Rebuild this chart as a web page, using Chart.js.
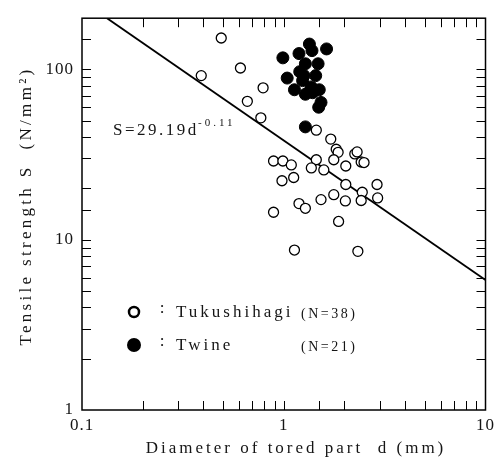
<!DOCTYPE html>
<html>
<head>
<meta charset="utf-8">
<title>Tensile strength vs diameter</title>
<script src="https://cdn.jsdelivr.net/npm/chart.js@4.4.1/dist/chart.umd.min.js"></script>
<style>
	html, body { margin: 0; padding: 0; background: #fff; }
	#chart { display: block; }
</style>
</head>
<body>
<canvas id="chart" width="499" height="466"></canvas>
<script>
// Tukushihagi (open circles): diameter d (mm) and tensile strength S (N/mm2).
var tukushihagiD = [ 0.49, 0.39, 0.61, 0.79, 0.66, 0.77, 0.89, 0.99, 1.09, 0.98, 1.12, 1.45, 1.71, 1.82, 1.86, 2.25, 2.31, 1.45, 1.77, 1.37, 1.58, 2.03, 2.42, 2.50, 2.03, 2.90, 2.45, 2.42, 2.92, 1.77, 1.53, 2.02, 1.19, 1.28, 0.89, 1.87, 1.13, 2.33 ];
var tukushihagiS = [ 153, 92, 102, 78, 65, 52, 29, 29, 27.5, 22.2, 23.2, 44, 39, 34, 32.6, 31.9, 32.8, 29.5, 29.5, 26.4, 25.7, 27.1, 28.6, 28.4, 21.1, 21.1, 19.0, 17.0, 17.6, 18.4, 17.2, 16.9, 16.3, 15.3, 14.5, 12.8, 8.7, 8.55 ];

// Twine (filled circles).
var twineD = [ 0.99, 1.19, 1.34, 1.38, 1.63, 1.28, 1.48, 1.20, 1.44, 1.04, 1.24, 1.13, 1.37, 1.50, 1.28, 1.39, 1.53, 1.49, 1.28, 1.26, 1.35 ];
var twineS = [ 117, 124, 141, 129, 132, 108, 108, 97, 92, 89, 86, 76, 79, 76, 71.5, 73, 64, 60, 46, 92, 75 ];

// Regression line end points, as drawn.
var fitD = [ 0.133, 10 ];
var fitS = [ 200, 5.8 ];

// Labelled ticks.
var xTickLabels = [ 0.1, 1, 10 ];
var yTickLabels = [ 1, 10, 100 ];

( function() {
	'use strict';

	var SERIF = '"Liberation Serif", "DejaVu Serif", serif';
	var INK = '#151515';

	/**
	 * Zip two arrays into {x, y} points.
	 */
	function buildPoints( xs, ys ) {
		return xs.map( function( x, i ) {
			return { x: x, y: ys[ i ] };
		} );
	}

	/**
	 * Return the label for a tick value, or '' if it is not labelled.
	 */
	function tickLabel( value, labels ) {
		for ( var i = 0; i < labels.length; i++ ) {
			if ( Math.abs( Math.log10( value ) - Math.log10( labels[ i ] ) ) < 1e-6 ) {
				return String( labels[ i ] );
			}
		}
		return '';
	}

	/**
	 * Draw text with letter spacing.
	 */
	function drawText( ctx, text, x, y, size, spacing, align ) {
		ctx.font = size + 'px ' + SERIF;
		ctx.letterSpacing = spacing + 'px';
		ctx.textAlign = align || 'left';
		ctx.textBaseline = 'alphabetic';
		ctx.fillStyle = INK;
		ctx.fillText( text, x, y );
	}

	/**
	 * Frame, inward ticks, titles, equation and legend.
	 */
	var framePlugin = {
		id: 'frameAndText',
		beforeDraw: function( chart ) {
			chart.ctx.letterSpacing = '1px';
		},
		afterDraw: function( chart ) {
			var ctx = chart.ctx;
			var area = chart.chartArea;
			var xs = chart.scales.x;
			var ys = chart.scales.y;
			var tick = 9;

			ctx.save();
			ctx.strokeStyle = '#000';

			// Inward ticks on all four sides.
			ctx.lineWidth = 1;
			ctx.beginPath();
			xs.ticks.forEach( function( t ) {
				var px = Math.round( xs.getPixelForValue( t.value ) ) + 0.5;
				if ( px <= area.left + 1 || px >= area.right - 1 ) {
					return;
				}
				ctx.moveTo( px, area.bottom );
				ctx.lineTo( px, area.bottom - tick );
				ctx.moveTo( px, area.top );
				ctx.lineTo( px, area.top + tick );
			} );
			ys.ticks.forEach( function( t ) {
				var py = Math.round( ys.getPixelForValue( t.value ) ) + 0.5;
				if ( py <= area.top + 1 || py >= area.bottom - 1 ) {
					return;
				}
				ctx.moveTo( area.left, py );
				ctx.lineTo( area.left + tick, py );
				ctx.moveTo( area.right, py );
				ctx.lineTo( area.right - tick, py );
			} );
			ctx.stroke();

			// Frame.
			ctx.lineWidth = 1.5;
			ctx.strokeRect( area.left, area.top, area.right - area.left, area.bottom - area.top );

			// Axis titles.
			drawText( ctx, 'Diameter of tored part  d (mm)', 296, 453, 17, 3, 'center' );
			ctx.save();
			ctx.translate( 31, 206 );
			ctx.rotate( -Math.PI / 2 );
			drawText( ctx, 'Tensile strength S  (N/mm\u00b2)', 0, 0, 17, 3.3, 'center' );
			ctx.restore();

			// Regression equation.
			drawText( ctx, 'S=29.19d', 113, 135, 17, 2.5, 'left' );
			drawText( ctx, '-0.11', 198, 126, 11, 3, 'left' );

			// Legend.
			ctx.lineWidth = 2.5;
			ctx.fillStyle = '#fff';
			ctx.beginPath();
			ctx.arc( 134, 312, 5, 0, Math.PI * 2 );
			ctx.fill();
			ctx.stroke();
			ctx.fillStyle = '#000';
			ctx.beginPath();
			ctx.arc( 134, 345, 7, 0, Math.PI * 2 );
			ctx.fill();

			drawText( ctx, ':', 162, 313, 17, 0, 'center' );
			drawText( ctx, ':', 162, 346, 17, 0, 'center' );
			drawText( ctx, 'Tukushihagi', 176, 317, 17, 3, 'left' );
			drawText( ctx, 'Twine', 176, 350, 17, 3, 'left' );
			drawText( ctx, '(N=38)', 301, 318, 14, 2.5, 'left' );
			drawText( ctx, '(N=21)', 301, 351, 14, 2.5, 'left' );

			ctx.restore();
		}
	};

	var tickFont = { family: SERIF, size: 17 };

	new Chart( document.getElementById( 'chart' ), {
		type: 'scatter',
		data: {
			datasets: [ {
				label: 'Twine',
				data: buildPoints( twineD, twineS ),
				pointRadius: 6,
				pointBackgroundColor: '#000',
				pointBorderColor: '#000',
				pointBorderWidth: 1
			}, {
				label: 'Tukushihagi',
				data: buildPoints( tukushihagiD, tukushihagiS ),
				pointRadius: 5,
				pointBackgroundColor: '#fff',
				pointBorderColor: '#000',
				pointBorderWidth: 1.3
			}, {
				type: 'line',
				label: 'S=29.19d^-0.11',
				data: buildPoints( fitD, fitS ),
				borderColor: '#000',
				borderWidth: 1.8,
				pointRadius: 0,
				fill: false,
				tension: 0
			} ]
		},
		options: {
			responsive: false,
			animation: false,
			events: [],
			layout: {
				padding: { left: 0, right: 13, top: 10, bottom: 0 }
			},
			plugins: {
				legend: { display: false },
				tooltip: { enabled: false }
			},
			scales: {
				x: {
					type: 'logarithmic',
					min: 0.1,
					max: 10,
					afterFit: function( scale ) {
						scale.height = 56;
					},
					grid: { display: false, drawTicks: false },
					border: { display: false },
					ticks: {
						autoSkip: false,
						maxRotation: 0,
						padding: 5,
						color: INK,
						font: tickFont,
						callback: function( value ) {
							return tickLabel( value, xTickLabels );
						}
					}
				},
				y: {
					type: 'logarithmic',
					min: 1,
					max: 200,
					afterFit: function( scale ) {
						scale.width = 82;
					},
					grid: { display: false, drawTicks: false },
					border: { display: false },
					ticks: {
						autoSkip: false,
						padding: 8,
						color: INK,
						font: tickFont,
						callback: function( value ) {
							return tickLabel( value, yTickLabels );
						}
					}
				}
			}
		},
		plugins: [ framePlugin ]
	} );
} )();
</script>
</body>
</html>
